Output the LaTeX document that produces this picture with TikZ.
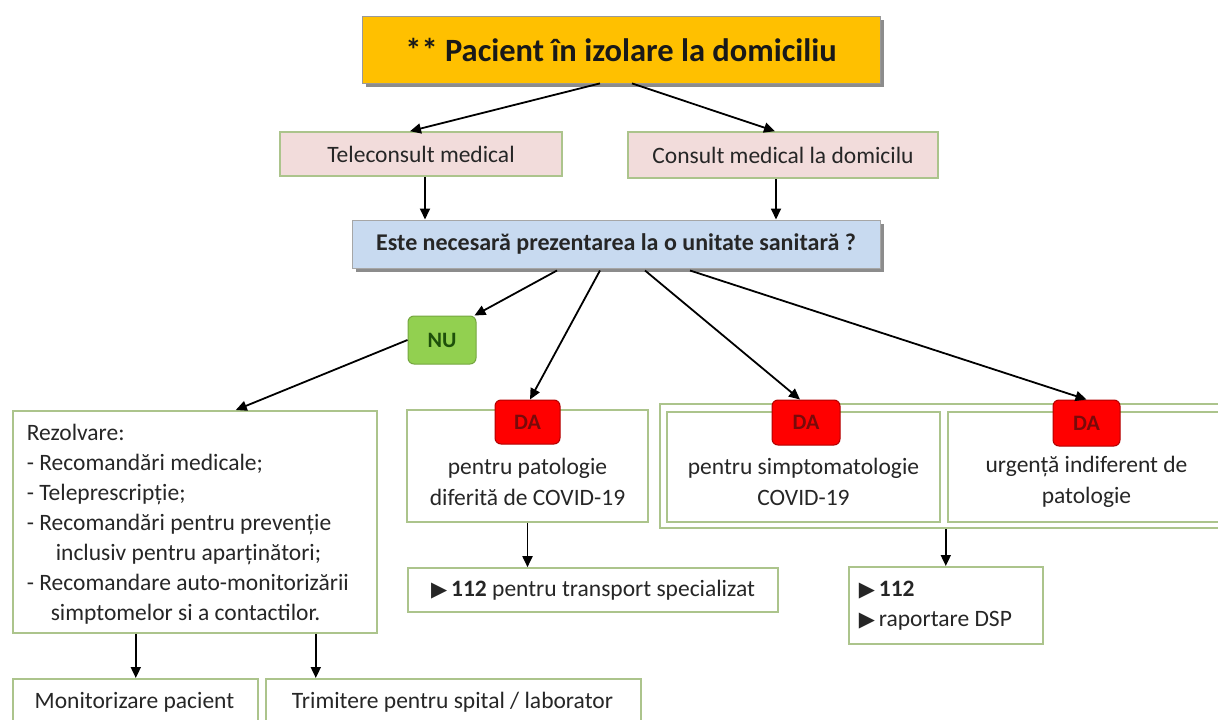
\documentclass[tikz,border=0pt]{standalone}
\usepackage{fontspec}
\setmainfont{Carlito}
\newfontfamily\symfont{DejaVu Sans}
\usetikzlibrary{arrows.meta,shadows}
\definecolor{bordg}{RGB}{172,196,140}
\definecolor{gold}{RGB}{255,192,0}
\definecolor{pinkf}{RGB}{242,220,219}
\definecolor{bluef}{RGB}{200,218,240}
\definecolor{greenf}{RGB}{146,208,80}
\definecolor{greent}{RGB}{30,80,10}
\definecolor{redt}{RGB}{120,10,10}
\definecolor{txt}{RGB}{38,38,38}
\newcommand{\tri}{{\symfont\fontsize{21}{24}\selectfont ▶}}
\begin{document}
\begin{tikzpicture}[x=1pt,y=-1pt,
  every node/.style={text=txt},
  gbox/.style={draw=bordg,line width=1.6pt,fill=white,inner sep=0pt,font=\fontsize{23.5}{28}\selectfont},
  arr/.style={line width=1.8pt,-{Triangle[length=11pt,width=10pt]}},
  dabox/.style={draw=red!70!black,line width=1pt,fill=red,rounded corners=6pt,minimum width=65pt,minimum height=44pt,inner sep=0pt,font=\fontsize{22}{26}\selectfont\bfseries,text=redt},
  shad/.style={drop shadow={shadow xshift=4pt,shadow yshift=-4pt,fill=black!45,opacity=1}},
  lbl/.style={align=center,font=\fontsize{23.5}{31}\selectfont}
]
\useasboundingbox (0,0) rectangle (1218,720);
% title
\node[shad,draw=black!40,line width=0.8pt,fill=gold,minimum width=518pt,minimum height=67pt,inner sep=0pt,font=\fontsize{32.5}{38}\selectfont\bfseries,text=black!90] (title) at (621,49.5) {** Pacient în izolare la domiciliu};
% second row
\node[gbox,fill=pinkf,minimum width=282pt,minimum height=44pt] (tele) at (421,154) {Teleconsult medical};
\node[gbox,fill=pinkf,minimum width=310pt,minimum height=46pt] (cons) at (783,155) {Consult medical la domicilu};
% question
\node[shad,draw=black!35,line width=1pt,fill=bluef,minimum width=528pt,minimum height=48pt,inner sep=0pt,font=\fontsize{24}{28}\selectfont\bfseries] (este) at (616,244) {Este necesară prezentarea la o unitate sanitară ?};
% NU
\node[draw=greenf!80!black,line width=1pt,fill=greenf,rounded corners=6pt,minimum width=68pt,minimum height=48pt,inner sep=0pt,font=\fontsize{22}{26}\selectfont\bfseries,text=greent] (nu) at (442,340) {NU};
% Rezolvare
\node[gbox,anchor=north west,minimum width=364pt,minimum height=222pt,text width=344pt,align=flush left,inner xsep=10pt,inner ysep=0pt,font=\fontsize{23.5}{30}\selectfont] (rez) at (12,410) {\strut\hspace*{4pt}Rezolvare:\\
\hspace*{4pt}- Recomandări medicale;\\
\hspace*{4pt}- Teleprescripție;\\
\hspace*{4pt}- Recomandări pentru prevenție\\
\hspace*{33pt}inclusiv pentru aparținători;\\
\hspace*{4pt}- Recomandare auto-monitorizării\\
\hspace*{28pt}simptomelor si a contactilor.};
% DA 1
\node[gbox,minimum width=241pt,minimum height=112pt] (box1) at (527.5,466) {};
\node[lbl] (t1) at (527.5,482) {pentru patologie\\diferită de COVID-19};
\node[dabox] (da1) at (527.5,422) {DA};
% outer container
\node[gbox,minimum width=565pt,minimum height=124pt] (outer) at (942.5,466) {};
\node[gbox,minimum width=273pt,minimum height=110pt] (box2) at (803.5,467) {};
\node[gbox,minimum width=277pt,minimum height=110pt] (box3) at (1086.5,467) {};
\node[lbl] (t2) at (803.5,482) {pentru simptomatologie\\COVID-19};
\node[lbl] (t3) at (1086.5,482) {urgență indiferent de\\patologie};
\node[dabox,minimum width=68pt,minimum height=45pt] (da2) at (806,422.5) {DA};
\node[dabox,minimum width=67pt,minimum height=46pt] (da3) at (1086.5,423) {DA};
% 112 boxes
\node[gbox,minimum width=370pt,minimum height=44pt] (t112) at (593,590) {\tri\,\textbf{112} pentru transport specializat};
\node[gbox,anchor=north west,minimum width=194pt,minimum height=77pt,text width=174pt,align=flush left,inner xsep=10pt,font=\fontsize{23.5}{30}\selectfont] (b112) at (848,566) {\tri\,\textbf{112}\\\tri\,raportare DSP};
% bottom
\node[gbox,anchor=north west,minimum width=245pt,minimum height=60pt] (mon) at (12,678) {};
\node[font=\fontsize{23.5}{28}\selectfont] (mont) at (134.5,702) {Monitorizare pacient};
\node[gbox,anchor=north west,minimum width=375pt,minimum height=60pt] (trim) at (265,678) {};
\node[font=\fontsize{23.5}{28}\selectfont] (trimt) at (452.5,702) {Trimitere pentru spital / laborator};
% connectors
\draw[arr] ([xshift=-21pt]title.south) -- ([xshift=-11pt]tele.north);
\draw[arr] ([xshift=11pt]title.south) -- ([xshift=-8pt]cons.north);
\draw[arr] ([xshift=4pt]tele.south) -- ([xshift=4pt]tele.south |- este.north);
\draw[arr] ([xshift=-7pt]cons.south) -- ([xshift=-7pt]cons.south |- este.north);
\draw[arr] ([xshift=-59pt,yshift=-2pt]este.south) -- ([xshift=-2pt]nu.north east);
\draw[arr] ([xshift=-16pt,yshift=-2pt]este.south) -- ([xshift=2.5pt]da1.north);
\draw[arr] ([xshift=29pt,yshift=-2pt]este.south) -- ([xshift=-6pt]da2.north);
\draw[arr] ([xshift=74pt,yshift=-2pt]este.south) -- (da3.north);
\draw[arr] (nu.west) -- ([xshift=41pt]rez.north);
\draw[arr] ([xshift=-59pt]rez.south) -- ([xshift=-59pt]rez.south |- mon.north);
\draw[arr] ([xshift=121pt]rez.south) -- ([xshift=121pt]rez.south |- trim.north);
\draw[arr] (box1.south) -- (box1.south |- t112.north);
\draw[arr] (b112.north |- outer.south) -- (b112.north);
\end{tikzpicture}
\end{document}
